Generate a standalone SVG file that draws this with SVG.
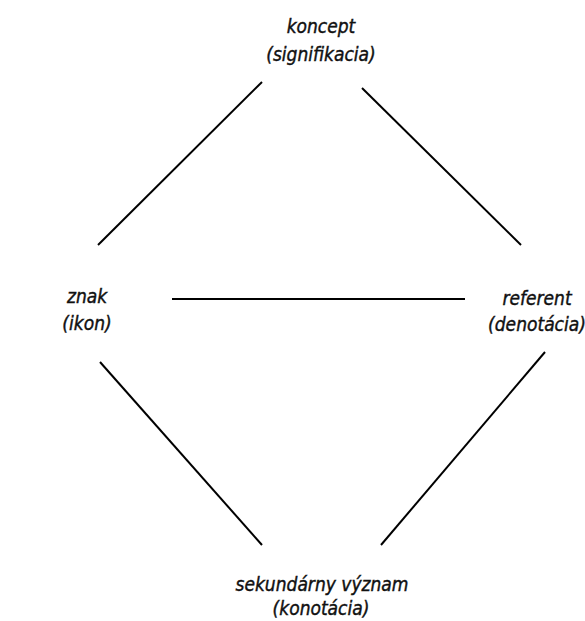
<svg xmlns="http://www.w3.org/2000/svg" width="585" height="621" viewBox="0 0 585 621">
  <style>
    .label { font-family: "DejaVu Sans", "Liberation Sans", sans-serif; font-stretch: condensed; font-style: italic; font-size: 19px; fill: #111; stroke: #111; stroke-width: 0.4; text-anchor: middle; }
    .link { stroke: #000; stroke-width: 2; fill: none; }
  </style>
  <rect width="585" height="621" fill="#fff"/>
  <g id="connectors">
    <line class="link" x1="262" y1="82" x2="98" y2="245"/>
    <line class="link" x1="362" y1="88" x2="521" y2="245"/>
    <line class="link" x1="172" y1="299" x2="465" y2="299"/>
    <line class="link" x1="100" y1="362" x2="262" y2="545"/>
    <line class="link" x1="545" y1="352" x2="381" y2="545"/>
  </g>
  <g id="koncept">
    <text class="label" x="321" y="33">koncept</text>
    <text class="label" x="321" y="61">(signifikacia)</text>
  </g>
  <g id="znak">
    <text class="label" x="87" y="303">znak</text>
    <text class="label" x="87" y="330">(ikon)</text>
  </g>
  <g id="referent">
    <text class="label" x="537" y="305">referent</text>
    <text class="label" x="537" y="331">(denotácia)</text>
  </g>
  <g id="sekundarny-vyznam">
    <text class="label" x="322" y="591">sekundárny význam</text>
    <text class="label" x="321" y="615">(konotácia)</text>
  </g>
</svg>
